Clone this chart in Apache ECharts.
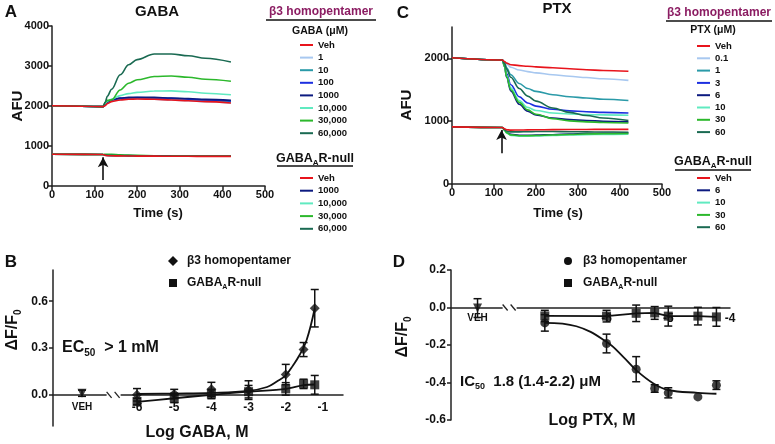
<!DOCTYPE html>
<html>
<head>
<meta charset="utf-8">
<script src="https://cdn.jsdelivr.net/npm/echarts@6.0.0/dist/echarts.min.js"></script>
<style>
  html, body { margin: 0; padding: 0; background: #fff; }
  #chart { width: 775px; height: 444px; }
</style>
</head>
<body>
<div id="chart"></div>
<script>
const FONT = '"Liberation Sans", Arial, sans-serif';

// ---- panel A / C : fluorescence traces (AFU) ----
const timeS = [0, 120, 125, 130, 140, 160, 180, 200, 240, 280, 320, 360, 420];

const gabaB3Names = ['Veh', '1', '10', '100', '1000', '10,000', '30,000', '60,000'];
const gabaB3Colors = ['#e8141c', '#a8c8f0', '#2a9aa8', '#1c2fe0', '#0c1a80', '#60eac0', '#2cb82c', '#1a6a52'];
const gabaB3Values = [
  [2005, 1985, 2010, 2060, 2110, 2150, 2170, 2175, 2170, 2150, 2130, 2110, 2075],
  [2005, 1985, 2030, 2080, 2130, 2160, 2175, 2180, 2170, 2150, 2130, 2105, 2070],
  [2005, 1985, 2040, 2090, 2140, 2180, 2195, 2200, 2195, 2180, 2160, 2140, 2110],
  [2005, 1985, 2050, 2100, 2150, 2190, 2205, 2210, 2205, 2190, 2170, 2150, 2125],
  [2005, 1985, 2060, 2110, 2160, 2200, 2215, 2220, 2215, 2200, 2185, 2165, 2140],
  [2005, 1985, 2070, 2120, 2170, 2260, 2310, 2340, 2375, 2378, 2355, 2320, 2280],
  [2005, 1985, 2090, 2140, 2154, 2400, 2570, 2655, 2736, 2750, 2720, 2670, 2620],
  [2005, 1985, 2100, 2250, 2420, 2780, 3030, 3160, 3300, 3300, 3255, 3195, 3100]
];
const gabaNullNames = ['Veh', '1000', '10,000', '30,000', '60,000'];
const gabaNullColors = ['#e8141c', '#0c1a80', '#60eac0', '#2cb82c', '#1a6a52'];
const gabaNullValues = [
  [795, 788, 765, 758, 755, 752, 750, 748, 746, 744, 742, 740, 740],
  [795, 788, 768, 762, 758, 756, 754, 752, 750, 748, 746, 744, 744],
  [795, 788, 772, 766, 762, 760, 758, 756, 754, 752, 750, 748, 748],
  [795, 788, 792, 795, 790, 780, 772, 765, 758, 752, 748, 746, 746],
  [795, 788, 776, 770, 765, 762, 760, 758, 755, 752, 750, 748, 748]
];

const ptxB3Names = ['Veh', '0.1', '1', '3', '6', '10', '30', '60'];
const ptxB3Colors = gabaB3Colors;
const ptxB3Values = [
  [2010, 1975, 1950, 1925, 1900, 1885, 1875, 1865, 1850, 1835, 1820, 1808, 1795],
  [2010, 1975, 1945, 1910, 1860, 1815, 1790, 1770, 1740, 1715, 1695, 1675, 1650],
  [2010, 1975, 1930, 1850, 1740, 1600, 1520, 1475, 1420, 1390, 1370, 1350, 1330],
  [2010, 1975, 1890, 1760, 1580, 1390, 1290, 1240, 1190, 1165, 1150, 1140, 1130],
  [2010, 1975, 1870, 1700, 1480, 1270, 1160, 1100, 1050, 1025, 1010, 1000, 990],
  [2010, 1975, 1880, 1730, 1530, 1330, 1220, 1170, 1130, 1115, 1105, 1100, 1095],
  [2010, 1975, 1875, 1710, 1500, 1300, 1180, 1110, 1040, 1005, 990, 980, 972],
  [2010, 1975, 1920, 1830, 1700, 1520, 1400, 1320, 1210, 1140, 1090, 1050, 1010]
];
const ptxNullNames = ['Veh', '6', '10', '30', '60'];
const ptxNullColors = gabaNullColors;
const ptxNullValues = [
  [910, 900, 880, 865, 858, 860, 862, 864, 866, 868, 869, 870, 870],
  [910, 900, 860, 820, 790, 775, 775, 778, 785, 795, 802, 808, 812],
  [910, 900, 855, 810, 775, 762, 762, 765, 772, 780, 786, 790, 793],
  [910, 900, 858, 815, 782, 768, 768, 772, 780, 788, 795, 800, 803],
  [910, 900, 870, 845, 830, 830, 832, 835, 835, 833, 830, 828, 825]
];
// stimulus arrows [time, from, to]
const arrowA = [120, 150, 720];
const arrowC = [118, 490, 860];

// ---- panel B : GABA concentration response ----
const logGaba = [-6, -5, -4, -3, -2, -1.52, -1.22];
const gabaB3Mean = [0.0, 0.005, 0.035, 0.03, 0.13, 0.29, 0.555];
const gabaB3Err = [0.04, 0.03, 0.045, 0.06, 0.065, 0.045, 0.12];
const gabaNullMean = [-0.043, -0.02, 0.005, 0.02, 0.038, 0.07, 0.064];
const gabaNullErr = [0.02, 0.03, 0.03, 0.04, 0.04, 0.03, 0.06];
const gabaFitX = [-6, -5, -4, -3, -2.5, -2.24, -2, -1.8, -1.64, -1.44, -1.22];
const gabaFitY = [0.005, 0.008, 0.012, 0.025, 0.05, 0.085, 0.125, 0.19, 0.25, 0.35, 0.555];
const gabaNullFitY = [-0.045, -0.022, 0.0, 0.02, 0.038, 0.062, 0.066];
const vehB = [-7.48, 0.01, 0.02];
const breakB = -6.63;
const gabaTicks = [-6, -5, -4, -3, -2, -1];

// ---- panel D : PTX concentration response ----
const logPtx = [-7, -6, -5.52, -5.22, -5, -4.52, -4.22];
const ptxB3Mean = [-0.082, -0.192, -0.329, -0.432, -0.455, -0.477, -0.414];
const ptxB3Err = [0.044, 0.05, 0.067, 0.02, 0.027, 0, 0.023];
const ptxNullMean = [-0.045, -0.046, -0.031, -0.029, -0.046, -0.046, -0.05];
const ptxNullErr = [0.03, 0.031, 0.044, 0.034, 0.053, 0.047, 0.05];
const ptxFitX = [-7, -6.49, -6, -5.73, -5.52, -5.24, -5, -4.52, -4.22];
const ptxFitY = [-0.082, -0.1, -0.183, -0.263, -0.334, -0.405, -0.44, -0.455, -0.46];
const vehD = [-8.09, -0.003, 0.05];
const breakD = -7.57;
const ptxLabels = [-6, -5, -4];

const chart = echarts.init(document.getElementById('chart'));

const AX = '#222';
const lineStyle = { color: AX, width: 1.5 };
const lblStyle = { fontFamily: FONT, fontWeight: 'bold', fontSize: 11, color: '#111' };

function traceSeries(axis, values, colors, z) {
  return values.map((vals, i) => ({
    type: 'line', xAxisIndex: axis, yAxisIndex: axis,
    data: timeS.map((t, j) => [t, vals[j]]),
    showSymbol: false, smooth: 0.35, smoothMonotone: 'x',
    lineStyle: { color: colors[i], width: 1.6 }, color: colors[i],
    z: i === 0 ? z + 1 : z, silent: true
  }));
}

function arrowSeries(axis, a) {
  return {
    type: 'line', xAxisIndex: axis, yAxisIndex: axis, data: [], silent: true,
    markLine: {
      silent: true, symbol: ['none', 'arrow'], symbolSize: [8, 10],
      label: { show: false },
      lineStyle: { color: '#111', width: 1.6, type: 'solid' },
      data: [[{ coord: [a[0], a[1]] }, { coord: [a[0], a[2]] }]]
    }
  };
}

function errorBarItem(params, api) {
  const x = api.value(0), y = api.value(1), e = api.value(2);
  if (!e) return null;
  const hi = api.coord([x, y + e]);
  const lo = api.coord([x, y - e]);
  const w = 4;
  const style = { stroke: '#111', lineWidth: 1.5 };
  return {
    type: 'group', children: [
      { type: 'line', shape: { x1: hi[0], y1: hi[1], x2: lo[0], y2: lo[1] }, style },
      { type: 'line', shape: { x1: hi[0] - w, y1: hi[1], x2: hi[0] + w, y2: hi[1] }, style },
      { type: 'line', shape: { x1: lo[0] - w, y1: lo[1], x2: lo[0] + w, y2: lo[1] }, style }
    ]
  };
}

function breakItem(params, api) {
  const p = api.coord([api.value(0), api.value(1)]);
  const st = { stroke: AX, lineWidth: 1.3 };
  return {
    type: 'group', children: [
      { type: 'rect', shape: { x: p[0] - 7, y: p[1] - 2, width: 14, height: 4 }, style: { fill: '#fff' } },
      { type: 'line', shape: { x1: p[0] - 7, y1: p[1] - 3, x2: p[0] - 2, y2: p[1] + 3 }, style: st },
      { type: 'line', shape: { x1: p[0] + 1, y1: p[1] - 3, x2: p[0] + 6, y2: p[1] + 3 }, style: st }
    ]
  };
}

function errSeries(axis, xs, means, errs) {
  return {
    type: 'custom', xAxisIndex: axis, yAxisIndex: axis, renderItem: errorBarItem,
    encode: { x: 0, y: 1 }, z: 3, silent: true,
    data: xs.map((x, i) => [x, means[i], errs[i]])
  };
}

function dotSeries(axis, xs, means, symbol, size, rot) {
  return {
    type: 'scatter', xAxisIndex: axis, yAxisIndex: axis, symbol: symbol, symbolSize: size,
    symbolRotate: rot || 0, itemStyle: { color: '#111' }, z: 4, silent: true,
    data: xs.map((x, i) => [x, means[i]])
  };
}

function fitSeries(axis, xs, ys, smooth) {
  return {
    type: 'line', xAxisIndex: axis, yAxisIndex: axis, showSymbol: false,
    smooth: smooth, lineStyle: { color: '#111', width: 1.8 }, z: 3, silent: true,
    data: xs.map((x, i) => [x, ys[i]])
  };
}

function txt(x, y, text, font, align, extra) {
  return {
    type: 'text', x: x, y: y,
    style: Object.assign({
      text: text, font: font, fill: '#111',
      align: align || 'center', textAlign: align || 'center',
      verticalAlign: 'middle', textVerticalAlign: 'middle'
    }, extra || {})
  };
}

function richTxt(x, y, text, size, align, rot) {
  const el = txt(x, y, text, 'bold ' + size + 'px ' + FONT, align, {
    rich: {
      m: { fontFamily: FONT, fontWeight: 'bold', fontSize: size, lineHeight: size + 4, fill: '#111' },
      s: { fontFamily: FONT, fontWeight: 'bold', fontSize: Math.round(size * 0.62), lineHeight: Math.round(size * 0.62), verticalAlign: 'bottom', fill: '#111' },
      p: { fontFamily: FONT, fontWeight: 'bold', fontSize: size, lineHeight: size + 4, fill: '#8b1c62' }
    }
  });
  if (rot) el.rotation = rot;
  return el;
}

function lineLegend(x, y0, dy, names, colors) {
  const out = [];
  names.forEach((n, i) => {
    const y = y0 + i * dy;
    out.push({ type: 'line', shape: { x1: x, y1: y, x2: x + 13, y2: y }, style: { stroke: colors[i], lineWidth: 2 } });
    out.push(txt(x + 18, y, n, 'bold 9.5px ' + FONT, 'left'));
  });
  return out;
}

function uline(x1, x2, y) {
  return { type: 'line', shape: { x1: x1, y1: y, x2: x2, y2: y }, style: { stroke: '#111', lineWidth: 1.5 } };
}

function vtxt(x, y, text, font) {
  const el = txt(x, y, text, font);
  el.rotation = Math.PI / 2;
  return el;
}

const graphics = [
  // panel letters and titles
  txt(11, 12, 'A', 'bold 17px ' + FONT),
  txt(403, 13, 'C', 'bold 17px ' + FONT),
  txt(11, 262, 'B', 'bold 17px ' + FONT),
  txt(399, 262, 'D', 'bold 17px ' + FONT),
  txt(157, 12, 'GABA', 'bold 15px ' + FONT),
  txt(557, 9, 'PTX', 'bold 15px ' + FONT),
  vtxt(18, 106, 'AFU', 'bold 15px ' + FONT),
  vtxt(407, 105, 'AFU', 'bold 15px ' + FONT),
  txt(158, 213, 'Time (s)', 'bold 13px ' + FONT),
  txt(558, 213, 'Time (s)', 'bold 13px ' + FONT),
  richTxt(13, 330, '{m|ΔF/F}{s|0}', 16, 'center', Math.PI / 2),
  richTxt(403, 337, '{m|ΔF/F}{s|0}', 16, 'center', Math.PI / 2),
  txt(197, 433, 'Log GABA, M', 'bold 16px ' + FONT),
  txt(592, 421, 'Log PTX, M', 'bold 16px ' + FONT),
  richTxt(62, 348, '{m|EC}{s|50}{m|  > 1 mM}', 16, 'left'),
  richTxt(460, 382, '{m|IC}{s|50}{m|  1.8 (1.4-2.2) μM}', 15, 'left'),

  // legend A
  richTxt(321, 12, '{p|β3 homopentamer}', 12, 'center'),
  uline(266, 376, 20),
  txt(320, 31, 'GABA (μM)', 'bold 10.5px ' + FONT),
  ...lineLegend(300, 45, 12.6, gabaB3Names, gabaB3Colors),
  richTxt(315, 159, '{m|GABA}{s|A}{m|R-null}', 12.5, 'center'),
  uline(277, 353, 166),
  ...lineLegend(300, 178, 12.7, gabaNullNames, gabaNullColors),

  // legend C
  richTxt(719, 13, '{p|β3 homopentamer}', 12, 'center'),
  uline(666, 772, 21),
  txt(713, 30, 'PTX (μM)', 'bold 10.5px ' + FONT),
  ...lineLegend(697, 46, 12.3, ptxB3Names, ptxB3Colors),
  richTxt(713, 162, '{m|GABA}{s|A}{m|R-null}', 12.5, 'center'),
  uline(675, 751, 170),
  ...lineLegend(697, 178, 12.3, ptxNullNames, ptxNullColors),

  // legend B
  { type: 'polygon', shape: { points: [[173, 256], [178, 261], [173, 266], [168, 261]] }, style: { fill: '#111' } },
  txt(187, 261, 'β3 homopentamer', 'bold 12px ' + FONT, 'left'),
  { type: 'rect', shape: { x: 169, y: 279, width: 8, height: 8 }, style: { fill: '#111' } },
  richTxt(187, 283, '{m|GABA}{s|A}{m|R-null}', 12, 'left'),

  // legend D
  { type: 'circle', shape: { cx: 568, cy: 261, r: 4 }, style: { fill: '#111' } },
  txt(583, 261, 'β3 homopentamer', 'bold 12px ' + FONT, 'left'),
  { type: 'rect', shape: { x: 564, y: 279, width: 8, height: 8 }, style: { fill: '#111' } },
  richTxt(583, 283, '{m|GABA}{s|A}{m|R-null}', 12, 'left')
];

const plain = v => String(v);
const logLabel = veh => v => Math.abs(v - veh) < 0.01 ? '{v|VEH}' : String(v);

const option = {
  animation: false,
  backgroundColor: '#fff',
  grid: [
    { left: 52, top: 26, width: 213, height: 160 },
    { left: 452, top: 27, width: 210, height: 157 },
    { left: 53, top: 270, width: 290, height: 156 },
    { left: 451, top: 270, width: 279, height: 150 }
  ],
  xAxis: [
    { gridIndex: 0, type: 'value', min: 0, max: 500, interval: 100, splitLine: { show: false },
      axisLine: { lineStyle }, axisTick: { length: 4, lineStyle },
      axisLabel: Object.assign({ margin: 3, formatter: plain }, lblStyle) },
    { gridIndex: 1, type: 'value', min: 0, max: 500, interval: 100, splitLine: { show: false },
      axisLine: { lineStyle }, axisTick: { length: 4, lineStyle },
      axisLabel: Object.assign({ margin: 3, formatter: plain }, lblStyle) },
    { gridIndex: 2, type: 'value', min: -8.26, max: -0.46, splitLine: { show: false },
      axisLine: { onZero: true, lineStyle },
      axisTick: { show: false },
      axisLabel: Object.assign({}, lblStyle, {
        margin: -24, fontSize: 12,
        customValues: [vehB[0]].concat(gabaTicks),
        formatter: logLabel(vehB[0]),
        rich: { v: { fontFamily: FONT, fontWeight: 'bold', fontSize: 10, color: '#111' } }
      }) },
    { gridIndex: 3, type: 'value', min: -8.52, max: -4, splitLine: { show: false },
      axisLine: { onZero: true, lineStyle },
      axisTick: { show: false },
      axisLabel: Object.assign({}, lblStyle, {
        margin: -107, fontSize: 12,
        customValues: [vehD[0]].concat(ptxLabels),
        formatter: logLabel(vehD[0]),
        rich: { v: { fontFamily: FONT, fontWeight: 'bold', fontSize: 10, color: '#111' } }
      }) }
  ],
  yAxis: [
    { gridIndex: 0, type: 'value', min: 0, max: 4000, interval: 1000, splitLine: { show: false },
      axisLine: { show: true, lineStyle }, axisTick: { show: true, length: 4, lineStyle },
      axisLabel: Object.assign({ margin: 3, formatter: plain }, lblStyle) },
    { gridIndex: 1, type: 'value', min: 0, max: 2500, splitLine: { show: false },
      axisLine: { show: true, lineStyle },
      axisTick: { show: true, length: 4, lineStyle, customValues: [0, 1000, 2000] },
      axisLabel: Object.assign({ margin: 3, customValues: [0, 1000, 2000], formatter: plain }, lblStyle) },
    { gridIndex: 2, type: 'value', min: -0.2, max: 0.8, splitLine: { show: false },
      axisLine: { show: true, onZero: false, lineStyle },
      axisTick: { show: true, length: 4, lineStyle, customValues: [0, 0.3, 0.6] },
      axisLabel: Object.assign({ margin: 5, customValues: [0, 0.3, 0.6], formatter: v => v.toFixed(1) }, lblStyle, { fontSize: 12 }) },
    { gridIndex: 3, type: 'value', min: -0.6, max: 0.2, interval: 0.2, splitLine: { show: false },
      axisLine: { show: true, onZero: false, lineStyle },
      axisTick: { show: true, length: 4, lineStyle },
      axisLabel: Object.assign({ margin: 5, formatter: v => v.toFixed(1) }, lblStyle, { fontSize: 12 }) }
  ],
  graphic: { elements: graphics },
  series: [
    ...traceSeries(0, gabaNullValues, gabaNullColors, 2),
    ...traceSeries(0, gabaB3Values, gabaB3Colors, 2),
    arrowSeries(0, arrowA),
    ...traceSeries(1, ptxNullValues, ptxNullColors, 2),
    ...traceSeries(1, ptxB3Values, ptxB3Colors, 2),
    arrowSeries(1, arrowC),

    // B
    fitSeries(2, gabaFitX, gabaFitY, 0.4),
    fitSeries(2, logGaba, gabaNullFitY, 0.3),
    errSeries(2, logGaba, gabaB3Mean, gabaB3Err),
    errSeries(2, logGaba, gabaNullMean, gabaNullErr),
    errSeries(2, [vehB[0]], [vehB[1]], [vehB[2]]),
    dotSeries(2, logGaba, gabaB3Mean, 'diamond', 10),
    dotSeries(2, logGaba, gabaNullMean, 'rect', 9),
    dotSeries(2, [vehB[0]], [vehB[1]], 'triangle', 9, 180),
    { type: 'custom', xAxisIndex: 2, yAxisIndex: 2, renderItem: breakItem, data: [[breakB, 0]], z: 5, silent: true },

    // D
    fitSeries(3, ptxFitX, ptxFitY, 0.4),
    fitSeries(3, logPtx, ptxNullMean, false),
    errSeries(3, logPtx, ptxB3Mean, ptxB3Err),
    errSeries(3, logPtx, ptxNullMean, ptxNullErr),
    errSeries(3, [vehD[0]], [vehD[1]], [vehD[2]]),
    dotSeries(3, logPtx, ptxB3Mean, 'circle', 9),
    dotSeries(3, logPtx, ptxNullMean, 'rect', 9),
    dotSeries(3, [vehD[0]], [vehD[1]], 'triangle', 9, 180),
    { type: 'custom', xAxisIndex: 3, yAxisIndex: 3, renderItem: breakItem, data: [[breakD, 0]], z: 5, silent: true }
  ]
};

chart.setOption(option);
</script>
</body>
</html>
